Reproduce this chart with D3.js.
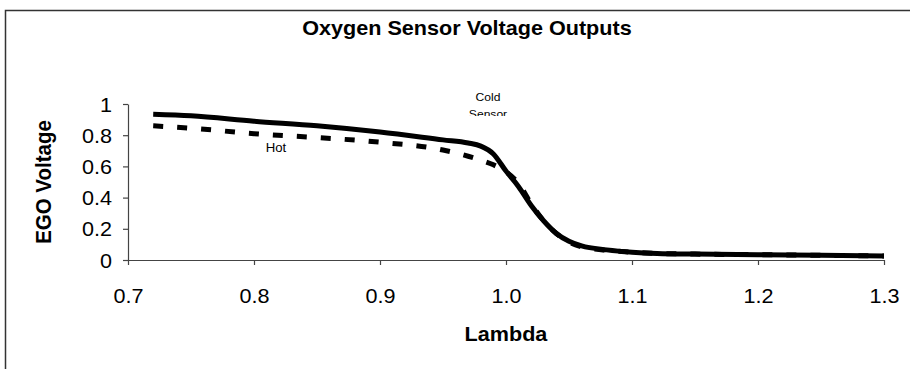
<!DOCTYPE html>
<html>
<head>
<meta charset="utf-8">
<script src="https://cdn.jsdelivr.net/npm/d3@7"></script>
<style>
  html, body { margin: 0; padding: 0; background: #fff; }
  svg { display: block; font-family: "Liberation Sans", Arial, sans-serif; }
</style>
</head>
<body>
<svg id="chart" width="910" height="369"></svg>
<script>
// Lambda (air/fuel equivalence) sample points
const lambda = [0.72, 0.75, 0.80, 0.85, 0.90, 0.95, 0.97, 0.98, 0.99, 1.00, 1.01, 1.02, 1.03, 1.04, 1.05, 1.06, 1.08, 1.10, 1.12, 1.15, 1.20, 1.25, 1.30];
// EGO voltage, cold sensor (solid line)
const coldSensor = [0.935, 0.925, 0.89, 0.86, 0.82, 0.77, 0.75, 0.73, 0.68, 0.57, 0.47, 0.35, 0.25, 0.17, 0.12, 0.09, 0.065, 0.05, 0.042, 0.038, 0.034, 0.03, 0.026];
// EGO voltage, hot sensor (dashed line)
const hotSensor = [0.86, 0.845, 0.81, 0.785, 0.755, 0.705, 0.665, 0.64, 0.61, 0.565, 0.49, 0.36, 0.25, 0.17, 0.115, 0.085, 0.062, 0.05, 0.042, 0.038, 0.034, 0.03, 0.026];
const xTicks = [0.7, 0.8, 0.9, 1.0, 1.1, 1.2, 1.3];
const yTicks = [0, 0.2, 0.4, 0.6, 0.8, 1];

const svg = d3.select("#chart");
const SX = 1.08; // horizontal text stretch

const x = d3.scaleLinear().domain([0.7, 1.3]).range([128, 884]);
const y = d3.scaleLinear().domain([0, 1]).range([260, 104]);

// chart frame
svg.append("rect")
  .attr("x", 5.5).attr("y", 10.5).attr("width", 1000).attr("height", 500)
  .attr("fill", "none").attr("stroke", "#333").attr("stroke-width", 1.5);

// title
svg.append("text")
  .attr("transform", `translate(467,35) scale(${SX},1)`)
  .attr("text-anchor", "middle")
  .attr("font-weight", "bold").attr("font-size", 20)
  .text("Oxygen Sensor Voltage Outputs");

// axes
const xAxis = svg.append("g")
  .attr("transform", `translate(0,${y(0)})`)
  .call(d3.axisBottom(x).tickValues(xTicks).tickFormat(d3.format(".1f")).tickSize(5).tickSizeOuter(0));
const yAxis = svg.append("g")
  .attr("transform", `translate(${x(0.7)},0)`)
  .call(d3.axisLeft(y).tickValues(yTicks).tickFormat(d => d === 0 || d === 1 ? d3.format("d")(d) : d3.format(".1f")(d)).tickSize(5).tickSizeOuter(0));

[xAxis, yAxis].forEach(g => {
  g.select(".domain").attr("stroke", "#444").attr("stroke-width", 1.2);
  g.selectAll(".tick line").attr("stroke", "#444").attr("stroke-width", 1.2);
  g.selectAll(".tick text").attr("fill", "#000").attr("font-size", 20)
    .attr("font-family", "Liberation Sans, Arial, sans-serif");
});
xAxis.selectAll(".tick text").attr("dy", null).attr("y", 0)
  .attr("transform", `translate(0,43) scale(${SX},1)`);
yAxis.selectAll(".tick text").attr("x", 0).attr("dy", "0.35em")
  .attr("transform", `translate(-16,0) scale(${SX},1)`);

// axis titles
svg.append("text")
  .attr("transform", `translate(506,341) scale(${SX},1)`)
  .attr("text-anchor", "middle").attr("font-weight", "bold").attr("font-size", 20)
  .text("Lambda");
svg.append("text")
  .attr("transform", `translate(43,182) scale(${SX},1) rotate(-90)`)
  .attr("text-anchor", "middle").attr("font-weight", "bold").attr("font-size", 20.5)
  .attr("dy", "0.35em")
  .text("EGO Voltage");

// series labels (text box clipped at its lower edge)
svg.append("defs").append("clipPath").attr("id", "coldClip")
  .append("rect").attr("x", 440).attr("y", 80).attr("width", 100).attr("height", 36);
const coldLabel = svg.append("g").attr("clip-path", "url(#coldClip)");
coldLabel.append("text").attr("transform", "translate(488,101) scale(1.1,1)")
  .attr("text-anchor", "middle").attr("font-size", 11).text("Cold");
coldLabel.append("text").attr("transform", "translate(488,118) scale(1.1,1)")
  .attr("text-anchor", "middle").attr("font-size", 11).text("Sensor");
svg.append("text").attr("transform", "translate(276,152) scale(1.1,1)")
  .attr("text-anchor", "middle").attr("font-size", 12).text("Hot");

// lines
const line = vals => d3.line()
  .x((d, i) => x(lambda[i]))
  .y(d => y(d))
  .curve(d3.curveMonotoneX)(vals);

svg.append("path").attr("d", line(hotSensor))
  .attr("fill", "none").attr("stroke", "#000").attr("stroke-width", 5)
  .attr("stroke-dasharray", "10,14");
svg.append("path").attr("d", line(coldSensor))
  .attr("fill", "none").attr("stroke", "#000").attr("stroke-width", 5);
</script>
</body>
</html>
